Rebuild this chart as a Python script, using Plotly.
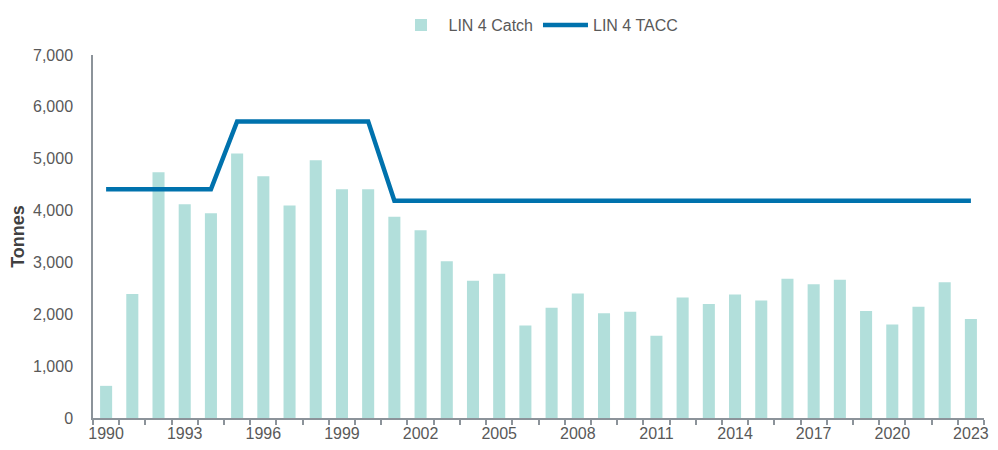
import plotly.graph_objects as go

years = list(range(1990, 2024))
catch = [620, 2390, 4740, 4120, 3950, 5100, 4660, 4100, 4970, 4410,
         4410, 3880, 3620, 3025, 2645, 2780, 1785, 2125, 2400, 2020,
         2050, 1585, 2325, 2200, 2380, 2265, 2685, 2580, 2665, 2065,
         1805, 2145, 2620, 1910]
tacc = [4410] * 5 + [5720] * 6 + [4190] * 23
tick_years = list(range(1990, 2024, 3))

grey = "#595959"
axis_col = "#8c939a"

fig = go.Figure()
fig.add_trace(go.Bar(x=years, y=catch, name="LIN 4 Catch",
                     marker=dict(color="#b2dfdb", line=dict(width=0)), width=0.46))
fig.add_trace(go.Scatter(x=years, y=tacc, name="LIN 4 TACC", mode="lines",
                         line=dict(color="#0072ad", width=4.5)))

# page body has an 8px margin, so keep the figure inside the window
fig.update_layout(
    width=982, height=434,
    paper_bgcolor="white", plot_bgcolor="white",
    font=dict(family="Liberation Sans, Arial, sans-serif", size=16, color=grey),
    margin=dict(l=85, r=6, t=47, b=24),
    showlegend=True,
    legend=dict(orientation="h", x=0.5, xanchor="center", y=1.0, yanchor="top",
                yref="container", itemwidth=45, font=dict(size=16, color=grey)),
    xaxis=dict(range=[1989.5, 2023.5], tickvals=tick_years, ticks="",
               showline=True, linecolor=axis_col, linewidth=1.5, showgrid=False,
               zeroline=False, automargin=False, ticklabelstandoff=0,
               ticklabeloverflow="allow",
               minor=dict(ticks="outside", tick0=1989.5, dtick=1, ticklen=5,
                          tickcolor=axis_col, tickwidth=1.5, showgrid=False)),
    yaxis=dict(range=[0, 7000], dtick=1000, tickformat=",", ticks="",
               showline=True, linecolor=axis_col, linewidth=1.5, showgrid=False,
               zeroline=False, automargin=False, ticklabelstandoff=15,
               title=dict(text="<b>Tonnes</b>", font=dict(size=18, color="#404040"), standoff=10)),
)

fig.write_html("out.html")
